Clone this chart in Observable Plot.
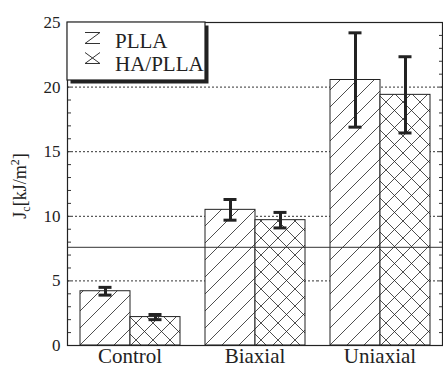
<!DOCTYPE html>
<html><head><meta charset="utf-8">
<script src="https://cdn.jsdelivr.net/npm/d3@7"></script>
<script src="https://cdn.jsdelivr.net/npm/@observablehq/plot@0.6"></script>
<style>
body{margin:0;background:#fff}
#chart svg, #chart svg text{font-family:"Liberation Serif","Times New Roman",serif !important;}
</style>
</head><body><div id="chart"></div>
<script>
const groups = ["Control", "Biaxial", "Uniaxial"];
const series = ["PLLA", "HA/PLLA"];
const pllaValues = [4.2, 10.5, 20.55];
const pllaErrors = [0.3, 0.8, 3.65];
const haValues = [2.2, 9.7, 19.4];
const haErrors = [0.2, 0.6, 2.95];
const gridValues = [5, 10, 15, 20];
const refLine = [7.6];
const yTicks = [0, 5, 10, 15, 20, 25];
const yMinorTicks = [0,1,2,3,4,5,6,7,8,9,10,11,12,13,14,15,16,17,18,19,20,21,22,23,24,25];

const data = groups.flatMap((g, i) => [
  {group: g, series: series[0], value: pllaValues[i], err: pllaErrors[i]},
  {group: g, series: series[1], value: haValues[i], err: haErrors[i]}
]);

const ink = "#222";
const chart = Plot.plot({
  width: 443, height: 367,
  marginLeft: 67, marginRight: 1, marginTop: 22, marginBottom: 22,
  style: {fontFamily: "'Liberation Serif', serif", fontSize: "17px", background: "#fff", color: ink},
  fx: {domain: groups, padding: 0, label: null},
  x: {domain: series, paddingInner: 0, paddingOuter: 0.25, axis: null},
  y: {domain: [0, 25], label: null},
  marks: [
    Plot.ruleY(gridValues, {stroke: "#333", strokeDasharray: "2,2", strokeWidth: 1}),
    Plot.barY(data.filter(d => d.series === "PLLA"), {fx: "group", x: "series", y: "value", fill: "url(#hatch)", stroke: ink, strokeWidth: 1}),
    Plot.barY(data.filter(d => d.series !== "PLLA"), {fx: "group", x: "series", y: "value", fill: "url(#cross)", stroke: ink, strokeWidth: 1}),
    Plot.ruleY(refLine, {stroke: "#333", strokeWidth: 1}),
    Plot.ruleX(data, {fx: "group", x: "series", y1: d => d.value - d.err, y2: d => d.value + d.err, stroke: ink, strokeWidth: 3}),
    Plot.tickY(data, {fx: "group", x: "series", y: d => d.value + d.err, stroke: ink, strokeWidth: 3, insetLeft: 18.5, insetRight: 18.5}),
    Plot.tickY(data, {fx: "group", x: "series", y: d => d.value - d.err, stroke: ink, strokeWidth: 3, insetLeft: 18.5, insetRight: 18.5}),
    Plot.axisY({anchor: "left", ticks: yTicks, tickSize: 0, tickPadding: 7, fontSize: 17, label: null}),
    Plot.axisY({anchor: "left", ticks: yMinorTicks, tickSize: -4, tickFormat: () => "", label: null, stroke: "#333"}),
    Plot.axisY({anchor: "right", ticks: yMinorTicks, tickSize: -4, tickFormat: () => "", label: null, stroke: "#333"}),
    Plot.axisFx({anchor: "bottom", tickSize: 0, tickPadding: 3, fontSize: 21, label: null}),
    Plot.frame({facet: "super", stroke: ink, strokeWidth: 1.2})
  ]
});
document.getElementById("chart").appendChild(chart);

const svg = d3.select(chart);
const defs = svg.insert("defs", ":first-child");
const hp = defs.append("pattern").attr("id", "hatch").attr("patternUnits", "userSpaceOnUse").attr("width", 17).attr("height", 17);
hp.append("rect").attr("width", 17).attr("height", 17).attr("fill", "#fff");
hp.append("path").attr("d", "M0,17L17,0M-2,2L2,-2M15,19L19,15").attr("stroke", ink).attr("stroke-width", 0.8);
const cp = defs.append("pattern").attr("id", "cross").attr("patternUnits", "userSpaceOnUse").attr("width", 17).attr("height", 17);
cp.append("rect").attr("width", 17).attr("height", 17).attr("fill", "#fff");
cp.append("path").attr("d", "M0,17L17,0M-2,2L2,-2M15,19L19,15M0,0L17,17M-2,15L2,19M15,-2L19,2").attr("stroke", ink).attr("stroke-width", 0.8);

const lg = svg.append("g").attr("text-anchor", "start");
lg.append("rect").attr("x", 70.5).attr("y", 25.5).attr("width", 138).attr("height", 58).attr("fill", ink);
lg.append("rect").attr("x", 67).attr("y", 22).attr("width", 138).attr("height", 58).attr("fill", "#fff").attr("stroke", ink).attr("stroke-width", 1.2);
lg.append("path").attr("d", "M85,32.5H100M85,43.5H100M85,43.5L100,32.5").attr("stroke", "#333").attr("fill", "none").attr("stroke-width", 1);
lg.append("path").attr("d", "M85,52.5L100,63.5M85,63.5L100,52.5M85,63.5H100").attr("stroke", "#333").attr("fill", "none").attr("stroke-width", 1);
lg.append("text").attr("x", 115).attr("y", 48).attr("font-size", 21).attr("text-anchor", "start").attr("fill", ink).text(series[0]);
lg.append("text").attr("x", 115).attr("y", 71).attr("font-size", 21).attr("text-anchor", "start").attr("fill", ink).text(series[1]);

const yl = svg.append("text").attr("transform", "translate(26,186) rotate(-90)").attr("text-anchor", "middle").attr("font-size", 18).attr("fill", ink);
yl.append("tspan").text("J");
yl.append("tspan").attr("font-size", 12).attr("dy", 4).text("c");
yl.append("tspan").attr("dy", -4).text("[kJ/m");
yl.append("tspan").attr("font-size", 12).attr("dy", -7).text("2");
yl.append("tspan").attr("dy", 7).text("]");
</script>
</body></html>
